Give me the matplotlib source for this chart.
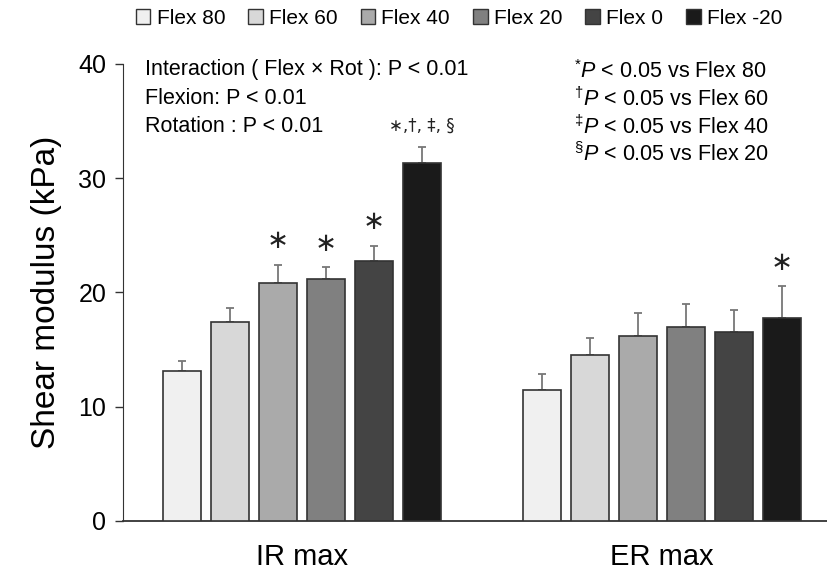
import numpy as np
import matplotlib
matplotlib.use("Agg")
import matplotlib.pyplot as plt
from matplotlib.patches import Patch

plt.rcParams['font.family'] = ['Liberation Sans', 'DejaVu Sans']
plt.rcParams['mathtext.fontset'] = 'custom'
plt.rcParams['mathtext.rm'] = 'Liberation Sans'
plt.rcParams['mathtext.it'] = 'Liberation Sans:italic'

# data
conditions = ['Flex 80', 'Flex 60', 'Flex 40', 'Flex 20', 'Flex 0', 'Flex -20']
groups = ['IR max', 'ER max']
ir_mean = [13.15, 17.4, 20.85, 21.15, 22.8, 31.3]
ir_sd = [0.85, 1.2, 1.6, 1.05, 1.3, 1.45]
er_mean = [11.5, 14.5, 16.15, 17.0, 16.55, 17.8]
er_sd = [1.35, 1.5, 2.05, 1.95, 1.9, 2.75]
ir_marks = ['', '', '\u2217', '\u2217', '\u2217', '\u2217,\u2020, \u2021, \u00a7']
er_marks = ['', '', '', '', '', '\u2217']
colors = ['#f0f0f0', '#d8d8d8', '#aaaaaa', '#808080', '#444444', '#1a1a1a']

fig = plt.figure(figsize=(8.27, 5.75), dpi=100)
ax = fig.add_axes([123 / 827, 54 / 575, 1 - 123 / 827, 457 / 575])

group_start = [0, 7.5]
width = 0.79
for g, (means, sds, marks) in enumerate([(ir_mean, ir_sd, ir_marks), (er_mean, er_sd, er_marks)]):
    x = group_start[g] + np.arange(len(means))
    ax.bar(x, means, width, color=colors, edgecolor='#333333', linewidth=1.2, zorder=3)
    ax.errorbar(x, means, yerr=[np.zeros(len(sds)), sds], fmt='none', ecolor='#777777',
                elinewidth=1.3, capsize=3, capthick=1.3, zorder=2)
    for xi, m, s, mk in zip(x, means, sds, marks):
        if not mk:
            continue
        if len(mk) > 1:
            ax.text(xi, m + s + 1.1, mk, ha='center', va='bottom', fontsize=12,
                    family=['DejaVu Sans'], color='#222222')
        else:
            ax.text(xi, m + s + 0.9, mk, ha='center', va='bottom', fontsize=19,
                    family=['DejaVu Sans'], color='#222222')

ax.set_xlim(-1.23, 13.44)
ax.set_ylim(0, 40)
ax.set_yticks([0, 10, 20, 30, 40])
ax.tick_params(axis='y', labelsize=18, direction='out', length=6, width=1, colors='#333333',
               labelcolor='black', pad=6)
ax.set_xticks([])
for side in ['top', 'right']:
    ax.spines[side].set_visible(False)
ax.spines['left'].set_color('#333333')
ax.spines['bottom'].set_color('#333333')
ax.spines['bottom'].set_linewidth(1.3)
ax.set_ylabel('Shear modulus (kPa)', fontsize=24, labelpad=12)

for g, name in enumerate(groups):
    ax.text(group_start[g] + 2.5, -1.9, name, ha='center', va='top', fontsize=21)

# statistics text
left_lines = ['Interaction ( Flex \u00d7 Rot ): P < 0.01', 'Flexion: P < 0.01', 'Rotation : P < 0.01']
for i, s in enumerate(left_lines):
    fig.text(145 / 827, 1 - (70 + 28.5 * i) / 575, s, fontsize=15.5, va='center', ha='left')

right_lines = [('*', 'Flex 80'), ('\u2020', 'Flex 60'), ('\u2021', 'Flex 40'), ('\u00a7', 'Flex 20')]
for i, (sym, ref) in enumerate(right_lines):
    fig.text(574 / 827, 1 - (72 + 27.5 * i) / 575, '$^{' + sym + '}\\mathit{P}$ < 0.05 vs ' + ref,
             fontsize=15.5, va='center', ha='left')

handles = [Patch(facecolor=c, edgecolor='#333333', linewidth=1) for c in colors]
fig.legend(handles, conditions, loc='center', bbox_to_anchor=(459 / 827, 1 - 18 / 575), ncol=6,
           frameon=False, fontsize=15, handlelength=0.7, handleheight=0.7,
           handletextpad=0.3, columnspacing=1.1)

fig.savefig('out.png', dpi=100)
